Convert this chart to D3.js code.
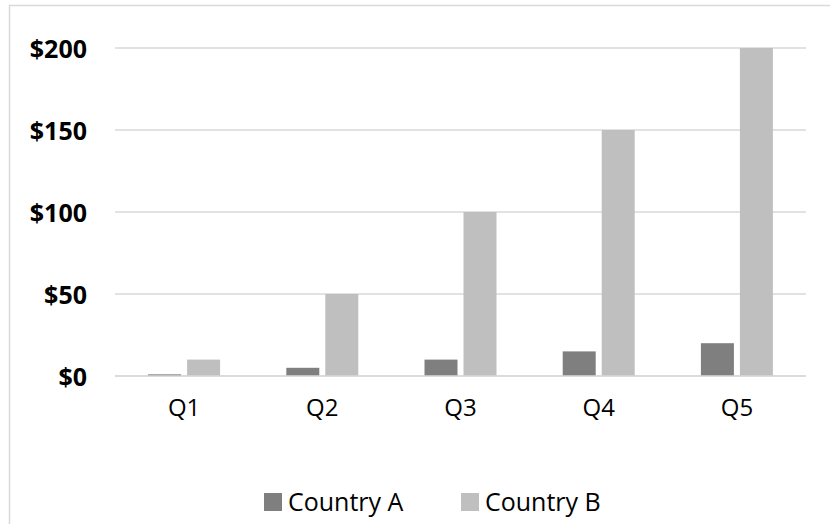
<!DOCTYPE html>
<html>
<head>
<meta charset="utf-8">
<script src="https://cdn.jsdelivr.net/npm/d3@7"></script>
<style>
  html, body { margin: 0; padding: 0; background: #fff; }
  svg { display: block; }
</style>
</head>
<body>
<svg id="chart" width="830" height="524"></svg>
<script>
// Quarterly values per country
const categories = ["Q1", "Q2", "Q3", "Q4", "Q5"];
const series = ["Country A", "Country B"];
const countryA = [1, 5, 10, 15, 20];
const countryB = [10, 50, 100, 150, 200];
const yTicks = [0, 50, 100, 150, 200];

const colors = { "Country A": "#7f7f7f", "Country B": "#bfbfbf" };
const font = "'Open Sans', 'Noto Sans', sans-serif";

const svg = d3.select("#chart");
const plot = { left: 115, right: 806, top: 48, bottom: 376 };

// Chart frame (runs off the right and bottom edges)
svg.append("rect")
  .attr("x", 9.5).attr("y", 5.5)
  .attr("width", 840).attr("height", 540)
  .attr("fill", "none").attr("stroke", "#d9d9d9").attr("stroke-width", 1.5);

const x0 = d3.scaleBand().domain(categories).range([plot.left, plot.right]).padding(0);
const x1 = d3.scaleBand().domain(series).range([0, x0.bandwidth()])
  .paddingInner(0.154).paddingOuter(0.849);
const y = d3.scaleLinear().domain([0, 200]).range([plot.bottom, plot.top]);

// Horizontal gridlines
svg.append("g").selectAll("line").data(yTicks).join("line")
  .attr("x1", plot.left).attr("x2", plot.right)
  .attr("y1", d => y(d)).attr("y2", d => y(d))
  .attr("stroke", "#d9d9d9").attr("stroke-width", 1.5);

// Y axis labels
const yAxis = d3.axisLeft(y).tickValues(yTicks).tickSize(0).tickPadding(0)
  .tickFormat(d => "$" + d);
svg.append("g").attr("transform", "translate(87,0)").call(yAxis)
  .call(g => g.select(".domain").remove())
  .selectAll("text")
  .attr("font-family", font).attr("font-size", 25).attr("font-weight", "bold")
  .attr("fill", "#000").attr("dy", "0.36em");

// Bars
const rows = categories.map((c, i) => ({ cat: c, vals: [
  { s: "Country A", v: countryA[i] },
  { s: "Country B", v: countryB[i] }
]}));

svg.append("g").selectAll("g").data(rows).join("g")
  .attr("transform", d => `translate(${x0(d.cat)},0)`)
  .selectAll("rect").data(d => d.vals).join("rect")
  .attr("x", d => x1(d.s))
  .attr("width", x1.bandwidth())
  .attr("y", d => y(d.v))
  .attr("height", d => y(0) - y(d.v))
  .attr("fill", d => colors[d.s]);

// Baseline drawn over the bars
svg.append("line")
  .attr("x1", plot.left).attr("x2", plot.right)
  .attr("y1", y(0)).attr("y2", y(0))
  .attr("stroke", "#d9d9d9").attr("stroke-width", 1.5);

// X axis labels
const xAxis = d3.axisBottom(x0).tickSize(0).tickPadding(0);
svg.append("g").attr("transform", `translate(0,${plot.bottom + 23})`).call(xAxis)
  .call(g => g.select(".domain").remove())
  .selectAll("text")
  .attr("font-family", font).attr("font-size", 24)
  .attr("fill", "#000").attr("dy", "0.71em");

// Legend
const legendX = { "Country A": 264, "Country B": 461 };
const lg = svg.append("g").selectAll("g").data(series).join("g")
  .attr("transform", d => `translate(${legendX[d]},493)`);
lg.append("rect").attr("width", 18).attr("height", 18).attr("fill", d => colors[d]);
lg.append("text").attr("x", 24).attr("y", 9).attr("dy", "0.36em")
  .attr("font-family", font).attr("font-size", 25).attr("fill", "#000")
  .text(d => d);
</script>
</body>
</html>
